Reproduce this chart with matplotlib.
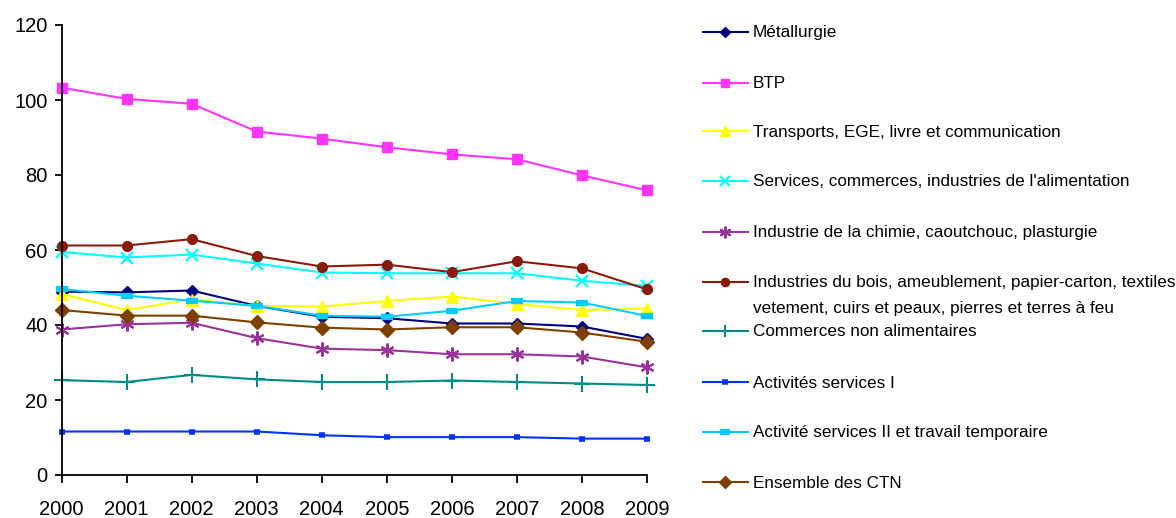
import matplotlib
matplotlib.use("Agg")
import matplotlib.pyplot as plt
from matplotlib.lines import Line2D

# Données
annees = [2000, 2001, 2002, 2003, 2004, 2005, 2006, 2007, 2008, 2009]

metallurgie = [48.9, 48.7, 49.2, 45.1, 42.2, 41.8, 40.4, 40.4, 39.6, 36.3]
btp = [103.3, 100.3, 99.0, 91.6, 89.7, 87.4, 85.5, 84.2, 79.9, 75.9]
transports = [48.3, 44.0, 46.8, 45.1, 44.9, 46.4, 47.6, 45.6, 44.0, 44.4]
services_alim = [59.5, 58.0, 58.8, 56.4, 54.0, 53.8, 53.8, 53.8, 51.8, 50.4]
chimie = [38.8, 40.2, 40.6, 36.5, 33.7, 33.3, 32.2, 32.2, 31.6, 28.7]
bois = [61.2, 61.2, 62.9, 58.4, 55.6, 56.1, 54.1, 57.0, 55.1, 49.5]
commerces_non_alim = [25.3, 24.8, 26.7, 25.5, 24.8, 24.8, 25.2, 24.8, 24.4, 24.0]
services_1 = [11.6, 11.6, 11.6, 11.6, 10.6, 10.1, 10.1, 10.1, 9.7, 9.7]
services_2 = [49.6, 47.8, 46.5, 45.1, 42.5, 42.2, 43.8, 46.4, 46.0, 42.4]
ensemble = [44.0, 42.5, 42.5, 40.7, 39.3, 38.8, 39.4, 39.4, 38.0, 35.5]

libelles = [
    "Métallurgie",
    "BTP",
    "Transports, EGE, livre et communication",
    "Services, commerces, industries de l'alimentation",
    "Industrie de la chimie, caoutchouc, plasturgie",
    "Industries du bois, ameublement, papier-carton, textiles\nvetement, cuirs et peaux, pierres et terres à feu",
    "Commerces non alimentaires",
    "Activités services I",
    "Activité services II et travail temporaire",
    "Ensemble des CTN",
]
series = [metallurgie, btp, transports, services_alim, chimie, bois,
          commerces_non_alim, services_1, services_2, ensemble]

# styles : couleur, marqueur, taille, épaisseur du marqueur
styles = [
    ("#000080", "D", 6, 1.0),
    ("#FF33FF", "s", 7, 1.0),
    ("#FFFF00", "^", 9, 1.0),
    ("#00FFFF", "x", 8, 1.6),
    ("#993399", (6, 2, 0), 10, 1.5),
    ("#8B1A0A", "o", 7, 1.0),
    ("#008B8B", "+", 11, 1.5),
    ("#0033FF", "_", 5, 4.0),
    ("#00CCFF", "_", 8, 4.5),
    ("#7F3F00", "D", 7.5, 1.0),
]

W, H = 1176, 518
fig = plt.figure(figsize=(W / 100, H / 100), dpi=100)
ax = fig.add_axes([61.5 / W, 1 - 475 / H, (647 - 61.5) / W, (475 - 25) / H])

for vals, (c, m, ms, mew) in zip(series, styles):
    ax.plot(annees, vals, color=c, lw=1.5, marker=m, markersize=ms,
            markeredgewidth=mew, markerfacecolor=c, markeredgecolor=c,
            clip_on=False)

ax.set_xlim(2000, 2009)
ax.set_ylim(0, 120)
ax.set_xticks(annees)
ax.set_yticks(range(0, 121, 20))
for s in ["top", "right"]:
    ax.spines[s].set_visible(False)
for s in ["left", "bottom"]:
    ax.spines[s].set_linewidth(1.3)
ax.tick_params(axis="y", direction="out", length=5, width=1.3, pad=5,
               labelsize=14.5)
ax.tick_params(axis="x", direction="out", length=6, width=1.3, pad=12,
               labelsize=14.5)
for lab in ax.get_xticklabels() + ax.get_yticklabels():
    lab.set_family(["Liberation Sans", "DejaVu Sans"])

# Légende à droite (construite à la main)
y_pos = [32, 83, 131, 181, 232, 282, 331, 382, 432, 482]
for lib, (c, m, ms, mew), yp in zip(libelles, styles, y_pos):
    yf = 1 - yp / H
    fig.add_artist(Line2D([703 / W, 748 / W], [yf, yf], transform=fig.transFigure,
                          color=c, lw=1.5))
    fig.add_artist(Line2D([725.5 / W], [yf], transform=fig.transFigure,
                          marker=m, markersize=ms * 0.85, markeredgewidth=mew,
                          color=c, markerfacecolor=c, markeredgecolor=c))
    fig.text(753 / W, yf + 6.5 / H, lib, ha="left", va="top", fontsize=12.3,
             family=["Liberation Sans", "DejaVu Sans"], linespacing=1.85)

fig.savefig("out.png", dpi=100)
